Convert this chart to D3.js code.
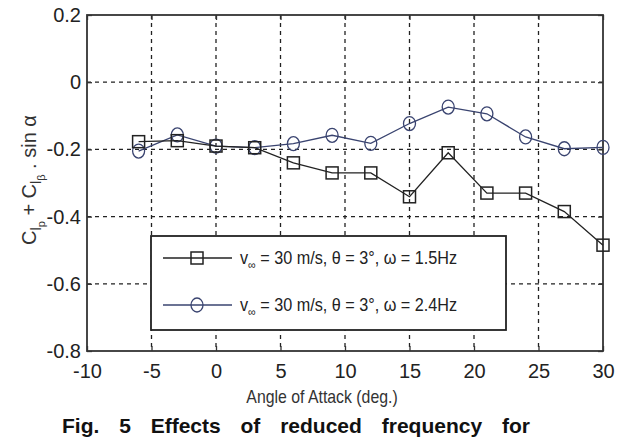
<!DOCTYPE html>
<html>
<head>
<meta charset="utf-8">
<script src="https://cdn.jsdelivr.net/npm/d3@7"></script>
<style>
  body { margin: 0; background: #fff; }
  svg { display: block; }
  .tick text { font-family: 'Liberation Sans', Arial, sans-serif; }
</style>
</head>
<body>
<svg id="chart" width="623" height="439"></svg>
<script>
const angles = [-6, -3, 0, 3, 6, 9, 12, 15, 18, 21, 24, 27, 30];
const cpSquare = [-0.177, -0.174, -0.19, -0.195, -0.24, -0.27, -0.27, -0.341, -0.21, -0.33, -0.33, -0.385, -0.485];
const cpCircle = [-0.205, -0.157, -0.19, -0.195, -0.183, -0.158, -0.182, -0.123, -0.074, -0.094, -0.163, -0.198, -0.194];
const xTicks = [-10, -5, 0, 5, 10, 15, 20, 25, 30];
const yTicks = [-0.8, -0.6, -0.4, -0.2, 0, 0.2];
const legendLabels = ['1.5Hz', '2.4Hz'];

const svg = d3.select('#chart');
const margin = {left: 87, top: 15, right: 20, bottom: 88};
const width = 623 - margin.left - margin.right;
const height = 439 - margin.top - margin.bottom;
const font = "'Liberation Sans', Arial, sans-serif";

const x = d3.scaleLinear().domain([-10, 30]).range([0, width]);
const y = d3.scaleLinear().domain([-0.8, 0.2]).range([height, 0]);

const g = svg.append('g').attr('transform', `translate(${margin.left},${margin.top})`);

// grid
g.append('g')
  .selectAll('line')
  .data(xTicks.slice(1, -1))
  .join('line')
  .attr('x1', d => x(d)).attr('x2', d => x(d))
  .attr('y1', 0).attr('y2', height)
  .attr('stroke', '#222').attr('stroke-width', 1.3)
  .attr('stroke-dasharray', '4,4');

g.append('g')
  .selectAll('line')
  .data(yTicks.slice(1, -1))
  .join('line')
  .attr('x1', 0).attr('x2', width)
  .attr('y1', d => y(d)).attr('y2', d => y(d))
  .attr('stroke', '#222').attr('stroke-width', 1.3)
  .attr('stroke-dasharray', '4,4');

// axes
const hyphen = s => s.replace('\u2212', '-');
const xAxis = g.append('g')
  .attr('transform', `translate(0,${height})`)
  .call(d3.axisBottom(x).tickValues(xTicks).tickSize(-5).tickPadding(13)
    .tickFormat(d => hyphen(d3.format('d')(d))));
const yAxis = g.append('g')
  .call(d3.axisLeft(y).tickValues(yTicks).tickSize(-5).tickPadding(6)
    .tickFormat(d => d === 0 ? '0' : hyphen(d3.format('.1f')(d))));

[xAxis, yAxis].forEach(a => {
  a.select('.domain').remove();
  a.selectAll('.tick line').attr('stroke', '#333').attr('stroke-width', 1.3);
  a.selectAll('.tick text').attr('font-size', 20).attr('fill', '#222');
});

g.append('g')
  .call(d3.axisTop(x).tickValues(xTicks).tickSize(-5).tickFormat(''))
  .call(a => a.select('.domain').remove())
  .selectAll('.tick line').attr('stroke', '#333').attr('stroke-width', 1.3);
g.append('g')
  .attr('transform', `translate(${width},0)`)
  .call(d3.axisRight(y).tickValues(yTicks).tickSize(-5).tickFormat(''))
  .call(a => a.select('.domain').remove())
  .selectAll('.tick line').attr('stroke', '#333').attr('stroke-width', 1.3);

g.append('rect')
  .attr('width', width).attr('height', height)
  .attr('fill', 'none').attr('stroke', '#333').attr('stroke-width', 1.8);

// series
const line = d3.line().x(d => x(d[0])).y(d => y(d[1]));
const squareData = angles.map((a, i) => [a, cpSquare[i]]);
const circleData = angles.map((a, i) => [a, cpCircle[i]]);

g.append('path').datum(circleData)
  .attr('d', line).attr('fill', 'none').attr('stroke', '#3a4470').attr('stroke-width', 1.3);
g.append('g').selectAll('ellipse').data(circleData).join('ellipse')
  .attr('cx', d => x(d[0])).attr('cy', d => y(d[1]))
  .attr('rx', 6).attr('ry', 7)
  .attr('fill', 'none').attr('stroke', '#3a4470').attr('stroke-width', 1.3);

g.append('path').datum(squareData)
  .attr('d', line).attr('fill', 'none').attr('stroke', '#222').attr('stroke-width', 1.3);
g.append('g').selectAll('rect').data(squareData).join('rect')
  .attr('x', d => x(d[0]) - 6).attr('y', d => y(d[1]) - 6)
  .attr('width', 12).attr('height', 12)
  .attr('fill', 'none').attr('stroke', '#222').attr('stroke-width', 1.5);

// legend
const legend = svg.append('g').attr('transform', 'translate(151,236)');
legend.append('rect')
  .attr('width', 355).attr('height', 94)
  .attr('fill', '#fff').attr('stroke', '#222').attr('stroke-width', 1.8);

const legendRows = [
  {label: legendLabels[0], color: '#222', shape: 'square', yPos: 22},
  {label: legendLabels[1], color: '#3a4470', shape: 'circle', yPos: 69}
];
legendRows.forEach(r => {
  const row = legend.append('g').attr('transform', `translate(0,${r.yPos})`);
  row.append('line').attr('x1', 12).attr('x2', 81).attr('stroke', r.color).attr('stroke-width', 1.3);
  if (r.shape === 'square') {
    row.append('rect').attr('x', 40).attr('y', -6).attr('width', 12).attr('height', 12)
      .attr('fill', 'none').attr('stroke', r.color).attr('stroke-width', 1.5);
  } else {
    row.append('ellipse').attr('cx', 46).attr('rx', 6).attr('ry', 7)
      .attr('fill', 'none').attr('stroke', r.color).attr('stroke-width', 1.3);
  }
  const t = row.append('text')
    .attr('transform', 'translate(89,6) scale(0.9,1)')
    .attr('font-family', font).attr('font-size', 18).attr('fill', '#222');
  t.append('tspan').text('v');
  t.append('tspan').attr('dy', 5).attr('font-size', 12).text('\u221e');
  t.append('tspan').attr('dy', -5).text(` = 30 m/s, \u03b8 = 3\u00b0, \u03c9 = ${r.label}`);
});

// axis labels
svg.append('text')
  .attr('transform', 'translate(322,403) scale(0.88,1)')
  .attr('text-anchor', 'middle')
  .attr('font-family', font).attr('font-size', 18).attr('fill', '#333')
  .text('Angle of Attack (deg.)');

const yl = svg.append('text')
  .attr('transform', 'translate(36,180) rotate(-90)')
  .attr('text-anchor', 'middle')
  .attr('font-family', font).attr('font-size', 20).attr('fill', '#333');
yl.append('tspan').text('C');
yl.append('tspan').attr('dy', 5).attr('font-size', 14).text('l');
yl.append('tspan').attr('dy', 4).attr('font-size', 11).text('p');
yl.append('tspan').attr('dy', -9).text(' + C');
yl.append('tspan').attr('dy', 5).attr('font-size', 14).text('l');
yl.append('tspan').attr('dy', 4).attr('font-size', 11).text('\u03b2');
yl.append('tspan').attr('dy', -9).text(' . sin \u03b1');

// caption
svg.append('text')
  .attr('x', 62).attr('y', 433)
  .attr('font-family', font)
  .attr('font-weight', 'bold').attr('font-size', 21).attr('fill', '#111')
  .attr('word-spacing', 14)
  .text('Fig. 5 Effects of reduced frequency for');
</script>
</body>
</html>
